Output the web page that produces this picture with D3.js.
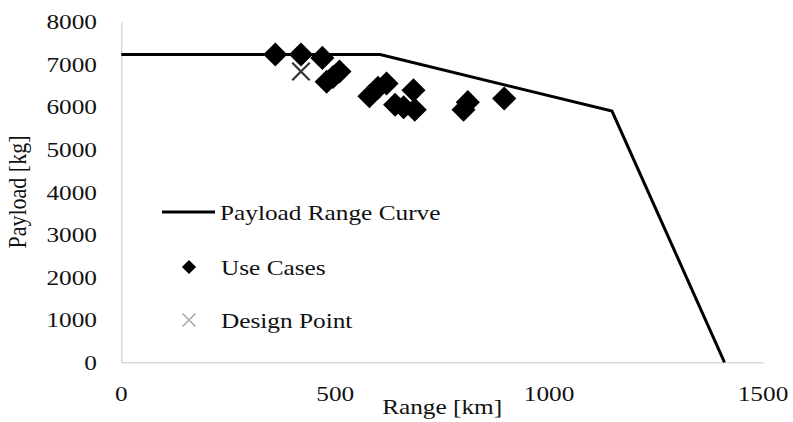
<!DOCTYPE html>
<html>
<head>
<meta charset="utf-8">
<script src="https://cdn.jsdelivr.net/npm/d3@7"></script>
<style>
  html, body { margin: 0; padding: 0; background: #fff; }
  svg { display: block; }
  text { font-family: "Liberation Serif", "Times New Roman", serif; fill: #111; }
</style>
</head>
<body>
<svg id="chart" width="793" height="422"></svg>
<script>
// Payload–range envelope: [range km, payload kg]
const curveRange   = [0, 605, 1147, 1410];
const curvePayload = [7230, 7230, 5900, 0];

// Mission use cases
const useRange   = [360, 420, 470, 480, 495, 510, 580, 600, 620, 640, 660, 683, 686, 800, 810, 895];
const usePayload = [7230, 7230, 7150, 6590, 6700, 6830, 6250, 6450, 6550, 6050, 5990, 6390, 5930, 5930, 6110, 6195];

// Design point
const designRange   = [420];
const designPayload = [6830];

const xTicks = [0, 500, 1000, 1500];
const yTicks = [0, 1000, 2000, 3000, 4000, 5000, 6000, 7000, 8000];

const legendLabels = ["Payload Range Curve", "Use Cases", "Design Point"];

const svg = d3.select("#chart");
const plotL = 121.3, plotR = 763, plotT = 21.7, plotB = 362.3;
const FS = 22, SX = 1.15; // font size and horizontal text stretch

const x = d3.scaleLinear().domain([0, 1500]).range([plotL, plotR]);
const y = d3.scaleLinear().domain([0, 8000]).range([plotB, plotT]);

// place a horizontally stretched text
function label(g, str, px, py, anchor, rot) {
  return g.append("text")
    .attr("transform", `translate(${px},${py}) scale(${SX},1)` + (rot ? ` rotate(${rot})` : ""))
    .attr("text-anchor", anchor)
    .style("font-size", FS + "px")
    .text(str);
}

// axes (lines only, labels stretched)
const gx = svg.append("g").attr("transform", `translate(0,${plotB})`)
  .call(d3.axisBottom(x).tickValues(xTicks).tickSize(0).tickFormat(""));
const gy = svg.append("g").attr("transform", `translate(${plotL},0)`)
  .call(d3.axisLeft(y).tickValues(yTicks).tickSize(0).tickFormat(""));
[gx, gy].forEach(g => {
  g.select(".domain").attr("stroke", "#d9d9d9").attr("stroke-width", 1.6);
});

const labels = svg.append("g");
xTicks.forEach(t => label(labels, String(t), x(t), 401, "middle"));
yTicks.forEach(t => label(labels, String(t), 97, y(t) + 7.5, "end"));
label(labels, "Range [km]", (plotL + plotR) / 2, 414, "middle");
label(labels, "Payload [kg]", 26, (plotT + plotB) / 2, "middle", -90);

// payload-range curve
const curveData = curveRange.map((r, i) => [r, curvePayload[i]]);
svg.append("path")
  .datum(curveData)
  .attr("fill", "none")
  .attr("stroke", "#000")
  .attr("stroke-width", 3)
  .attr("stroke-linejoin", "miter")
  .attr("d", d3.line().x(d => x(d[0])).y(d => y(d[1])));

// use cases (diamonds)
const diamond = d3.symbol().type(d3.symbolSquare).size(290)();
svg.append("g").selectAll("path")
  .data(useRange.map((r, i) => [r, usePayload[i]]))
  .join("path")
  .attr("d", diamond)
  .attr("transform", d => `translate(${x(d[0])},${y(d[1])}) rotate(45)`)
  .attr("fill", "#000");

// design point (cross)
const cross = d3.symbol().type(d3.symbolX).size(200)();
svg.append("g").selectAll("path")
  .data(designRange.map((r, i) => [r, designPayload[i]]))
  .join("path")
  .attr("d", cross)
  .attr("transform", d => `translate(${x(d[0])},${y(d[1])})`)
  .attr("fill", "none")
  .attr("stroke", "#333")
  .attr("stroke-width", 2.2);

// legend
const lg = svg.append("g");
const ly = [212, 267, 320];
lg.append("line").attr("x1", 162).attr("x2", 215).attr("y1", ly[0]).attr("y2", ly[0])
  .attr("stroke", "#000").attr("stroke-width", 3);
lg.append("path").attr("d", d3.symbol().type(d3.symbolSquare).size(100)())
  .attr("transform", `translate(189,${ly[1]}) rotate(45)`).attr("fill", "#000");
lg.append("path").attr("d", d3.symbol().type(d3.symbolX).size(110)())
  .attr("transform", `translate(189,${ly[2]})`)
  .attr("fill", "none").attr("stroke", "#a6a6a6").attr("stroke-width", 1.5);
legendLabels.forEach((t, i) => label(lg, t, i === 0 ? 220 : 221, ly[i] + 7.5, "start"));
</script>
</body>
</html>
